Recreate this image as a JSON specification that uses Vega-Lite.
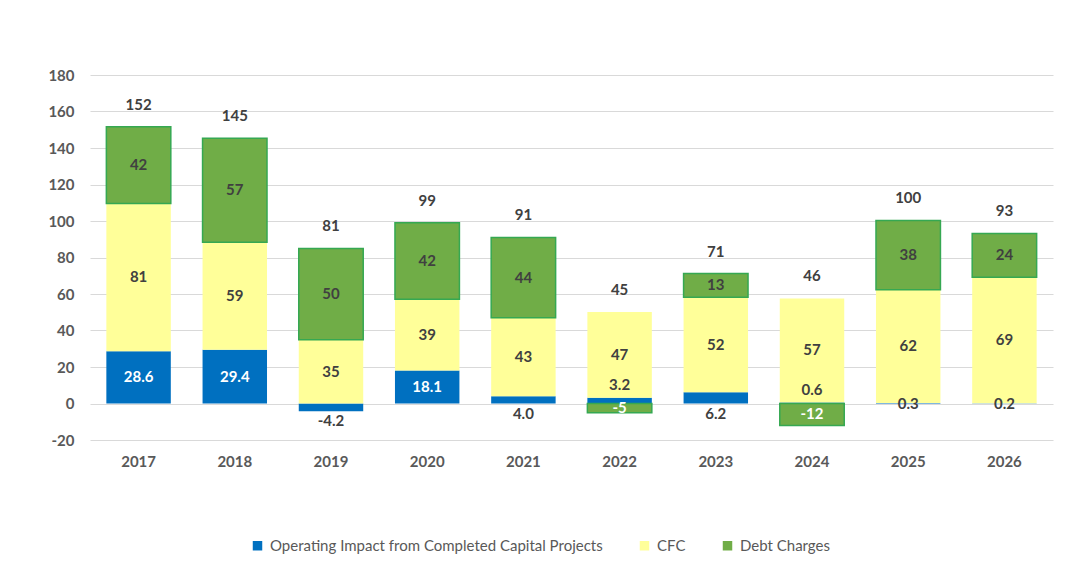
{
  "$schema": "https://vega.github.io/schema/vega-lite/v6.json",
  "width": 963,
  "height": 365,
  "autosize": {"type": "none"},
  "padding": {"left": 90, "top": 75, "right": 26, "bottom": 139},
  "background": "white",
  "config": {
    "view": {"stroke": null},
    "font": "Lato",
    "axis": {
      "labelFont": "Lato",
      "labelFontSize": 15,
      "labelFontWeight": "bold",
      "labelColor": "#595959",
      "ticks": false,
      "tickSize": 0,
      "domain": false,
      "title": null
    },
    "legend": {
      "labelFont": "Lato",
      "labelFontSize": 15,
      "labelColor": "#595959",
      "labelLimit": 1000,
      "padding": 0
    }
  },
  "data": {
    "values": [
      {"year": "2017", "series": "Operating Impact from Completed Capital Projects", "value": 28.6},
      {"year": "2017", "series": "CFC", "value": 81},
      {"year": "2017", "series": "Debt Charges", "value": 42},
      {"year": "2018", "series": "Operating Impact from Completed Capital Projects", "value": 29.4},
      {"year": "2018", "series": "CFC", "value": 59},
      {"year": "2018", "series": "Debt Charges", "value": 57},
      {"year": "2019", "series": "Operating Impact from Completed Capital Projects", "value": -4.2},
      {"year": "2019", "series": "CFC", "value": 35},
      {"year": "2019", "series": "Debt Charges", "value": 50},
      {"year": "2020", "series": "Operating Impact from Completed Capital Projects", "value": 18.1},
      {"year": "2020", "series": "CFC", "value": 39},
      {"year": "2020", "series": "Debt Charges", "value": 42},
      {"year": "2021", "series": "Operating Impact from Completed Capital Projects", "value": 4.0},
      {"year": "2021", "series": "CFC", "value": 43},
      {"year": "2021", "series": "Debt Charges", "value": 44},
      {"year": "2022", "series": "Operating Impact from Completed Capital Projects", "value": 3.2},
      {"year": "2022", "series": "CFC", "value": 47},
      {"year": "2022", "series": "Debt Charges", "value": -5},
      {"year": "2023", "series": "Operating Impact from Completed Capital Projects", "value": 6.2},
      {"year": "2023", "series": "CFC", "value": 52},
      {"year": "2023", "series": "Debt Charges", "value": 13},
      {"year": "2024", "series": "Operating Impact from Completed Capital Projects", "value": 0.6},
      {"year": "2024", "series": "CFC", "value": 57},
      {"year": "2024", "series": "Debt Charges", "value": -12},
      {"year": "2025", "series": "Operating Impact from Completed Capital Projects", "value": 0.3},
      {"year": "2025", "series": "CFC", "value": 62},
      {"year": "2025", "series": "Debt Charges", "value": 38},
      {"year": "2026", "series": "Operating Impact from Completed Capital Projects", "value": 0.2},
      {"year": "2026", "series": "CFC", "value": 69},
      {"year": "2026", "series": "Debt Charges", "value": 24}
    ]
  },
  "transform": [
    {"calculate": "indexof(['Operating Impact from Completed Capital Projects','CFC','Debt Charges'], datum.series)", "as": "k"},
    {"stack": "value", "groupby": ["year"], "sort": [{"field": "k", "order": "ascending"}], "as": ["v0", "v1"]},
    {"joinaggregate": [{"op": "min", "field": "value", "as": "minV"}], "groupby": ["year"]}
  ],
  "encoding": {
    "x": {
      "field": "year",
      "type": "ordinal",
      "scale": {"paddingInner": 0.33, "paddingOuter": 0.17},
      "axis": {"labelAngle": 0, "labelPadding": 14, "grid": false}
    }
  },
  "layer": [
    {
      "mark": {"type": "bar", "strokeWidth": 1.5},
      "encoding": {
        "y": {
          "field": "v1",
          "type": "quantitative",
          "scale": {"domain": [-20, 180], "nice": false, "zero": false},
          "axis": {
            "tickCount": 10,
            "labelExpr": "replace(datum.label, '\u2212', '-')",
            "labelOverlap": false,
            "labelFlush": false,
            "labelBound": false,
            "labelSeparation": 0,
            "grid": true,
            "gridColor": "#d9d9d9",
            "gridWidth": 1,
            "labelPadding": 16
          }
        },
        "y2": {"field": "v0"},
        "color": {
          "field": "series",
          "type": "nominal",
          "scale": {
            "domain": ["Operating Impact from Completed Capital Projects", "CFC", "Debt Charges"],
            "range": ["#0070C0", "#FFFF99", "#70AD47"]
          },
          "legend": {
            "title": null,
            "orient": "none",
            "direction": "horizontal",
            "legendX": 160,
            "legendY": 463,
            "symbolType": "square",
            "symbolSize": 90,
            "labelOffset": 5,
            "columnPadding": 34
          }
        },
        "stroke": {
          "condition": {"test": "datum.series === 'Debt Charges'", "value": "#35A852"},
          "value": null
        }
      }
    },
    {
      "transform": [
        {"calculate": "datum.k === 0 && abs(datum.value) < 10 ? (datum.value < 0 ? datum.value - 5.5 : (datum.minV < 0 ? datum.v1 + 7 : (datum.value < 1 ? 0 : -6))) : (datum.v0 + datum.v1) / 2", "as": "labelY"},
        {"calculate": "replace(datum.k === 0 ? format(datum.value, '.1f') : format(datum.value, '.0f'), '\u2212', '-')", "as": "label"},
        {"calculate": "datum.k === 0 ? (abs(datum.value) < 10 ? '#404040' : '#ffffff') : (datum.value < 0 ? '#ffffff' : '#404040')", "as": "lc"}
      ],
      "mark": {"type": "text", "font": "Lato", "fontSize": 15, "fontWeight": "bold", "baseline": "middle"},
      "encoding": {
        "y": {"field": "labelY", "type": "quantitative"},
        "text": {"field": "label"},
        "color": {"field": "lc", "type": "nominal", "scale": null, "legend": null}
      }
    },
    {
      "transform": [
        {"calculate": "max(datum.value, 0)", "as": "posv"},
        {"aggregate": [{"op": "sum", "field": "value", "as": "total"}, {"op": "sum", "field": "posv", "as": "pos"}], "groupby": ["year"]},
        {"calculate": "max(datum.total, datum.pos)", "as": "anchor"}
      ],
      "mark": {"type": "text", "font": "Lato", "fontSize": 15, "fontWeight": "bold", "baseline": "middle", "dy": -22, "color": "#404040"},
      "encoding": {
        "y": {"field": "anchor", "type": "quantitative"},
        "text": {"field": "total", "format": ".0f"}
      }
    }
  ]
}
